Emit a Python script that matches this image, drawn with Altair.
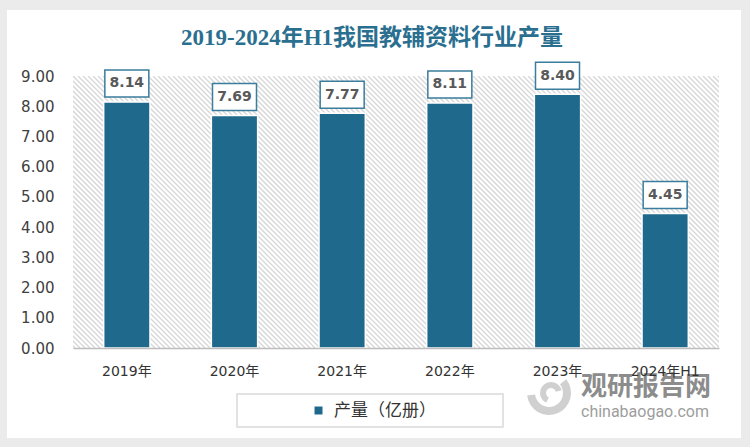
import altair as alt
import pandas as pd

# ---- data ----
categories = ["2019年", "2020年", "2021年", "2022年", "2023年", "2024年H1"]
values = [8.14, 7.69, 7.77, 8.11, 8.40, 4.45]
series_name = "产量（亿册）"
y_ticks = [0, 1, 2, 3, 4, 5, 6, 7, 8, 9]
title_text = "2019-2024年H1我国教辅资料行业产量"
watermark_cn = "观研报告网"
watermark_en = "chinabaogao.com"

df = pd.DataFrame({"cat": categories, "val": values, "series": [series_name] * len(values)})
one = pd.DataFrame({"k": [0]})

W, H = 646, 272
BAR = "#1f6a8c"
FONT = "DejaVu Sans, Noto Sans CJK SC"

xscale = alt.Scale(domain=categories, paddingInner=0.57, paddingOuter=0.285)
yscale = alt.Scale(domain=[0, 9], nice=False)

# white card behind everything
card = alt.Chart(one).mark_rect(fill="white", clip=False).encode(
    x=alt.value(-66), x2=alt.value(668), y=alt.value(-66), y2=alt.value(362)
)

# diagonal hatching of the plot area
hatch = (
    alt.Chart(alt.sequence(start=-280, stop=660, step=5, as_="a"))
    .transform_calculate(a2="datum.a + 272", yt="272", yb="0")
    .mark_rule(color="#d6d6d6", strokeWidth=1.3, clip=True)
    .encode(
        x=alt.X("a:Q", scale=alt.Scale(domain=[0, W], nice=False, zero=False), axis=None),
        x2="a2:Q",
        y=alt.Y("yt:Q", scale=alt.Scale(domain=[0, H], nice=False), axis=None),
        y2="yb:Q",
    )
)

bars = alt.Chart(df).mark_bar(stroke="white", strokeWidth=1.5).encode(
    x=alt.X(
        "cat:N", sort=categories, scale=xscale,
        axis=alt.Axis(
            title=None, labelAngle=0, ticks=False, domain=True, domainColor="#bdbdbd",
            domainWidth=1.5, labelFont=FONT, labelFontSize=14, labelColor="#333333",
            labelPadding=16, grid=False, zindex=1,
        ),
    ),
    y=alt.Y(
        "val:Q", scale=yscale,
        axis=alt.Axis(
            title=None, values=y_ticks, format=".2f", ticks=False, domain=False, grid=False,
            labelFont="DejaVu Sans", labelFontSize=15, labelColor="#404040", labelPadding=19,
            zindex=1,
        ),
    ),
    color=alt.Color(
        "series:N",
        scale=alt.Scale(range=[BAR]),
        legend=alt.Legend(
            title=None, orient="none", legendX=237, legendY=326, padding=0,
            symbolType="square", symbolSize=64, symbolStrokeWidth=0,
            labelFont="Noto Sans CJK SC", labelFontSize=17, labelColor="#333333",
            labelOffset=7,
        ),
    ),
)

box_path = "M-1,-0.614L1,-0.614L1,0.614L-1,0.614Z"
boxes = alt.Chart(df).mark_point(
    shape=box_path, size=1936, filled=True, fill="white", stroke="#3a7d9c",
    strokeWidth=1.5, opacity=1, yOffset=-18.5,
).encode(
    x=alt.X("cat:N", sort=categories, scale=xscale, axis=None),
    y=alt.Y("val:Q", scale=yscale, axis=None),
)

labels = alt.Chart(df).mark_text(
    yOffset=-18.5, baseline="middle", align="center", font="DejaVu Sans",
    fontSize=14, fontWeight="bold", color="#595959",
).encode(
    x=alt.X("cat:N", sort=categories, scale=xscale, axis=None),
    y=alt.Y("val:Q", scale=yscale, axis=None),
    text=alt.Text("val:Q", format=".2f"),
)

legend_box = alt.Chart(one).mark_rect(fill="white", stroke="#d9d9d9", strokeWidth=1.5, clip=False).encode(
    x=alt.value(164), x2=alt.value(430), y=alt.value(318), y2=alt.value(351)
)

# watermark logo (swirl) approximated by two grey arcs
logo1 = alt.Chart(one).mark_arc(
    radius=22, radius2=14, theta=0.9, theta2=4.6, color="#c4c4c4", opacity=0.8, clip=False
).encode(x=alt.value(476), y=alt.value(317))
logo2 = alt.Chart(one).mark_arc(
    radius=11, radius2=5, theta=3.6, theta2=7.6, color="#c4c4c4", opacity=0.8, clip=False
).encode(x=alt.value(478), y=alt.value(317))

wm1 = alt.Chart(one).mark_text(
    text=watermark_cn, font="Noto Sans CJK SC", fontSize=26, fontWeight="bold",
    color="#808080", opacity=0.9, align="center", baseline="middle", clip=False,
).encode(x=alt.value(573), y=alt.value(311))
wm2 = alt.Chart(one).mark_text(
    text=watermark_en, font="Roboto", fontSize=16, color="#999999", opacity=0.95,
    align="center", baseline="middle", clip=False,
).encode(x=alt.value(572), y=alt.value(336))

title = alt.Chart(one).mark_text(
    text=title_text, font="Liberation Serif, Noto Sans CJK SC", fontSize=23,
    fontWeight="bold", color="#2a6f8f", align="center", baseline="middle", clip=False,
).encode(x=alt.value(299), y=alt.value(-38))

chart = (
    alt.layer(card, hatch, bars, boxes, labels, legend_box, logo1, logo2, wm1, wm2, title)
    .resolve_scale(x="independent", y="independent")
    .properties(
        width=W, height=H,
        autosize=alt.AutoSizeParams(type="none"),
        padding={"left": 73, "top": 76, "right": 31, "bottom": 99},
        background="#ebebeb",
    )
    .configure_view(stroke=None)
)

chart.save("out.html", embed_options={"renderer": "svg", "actions": False})
